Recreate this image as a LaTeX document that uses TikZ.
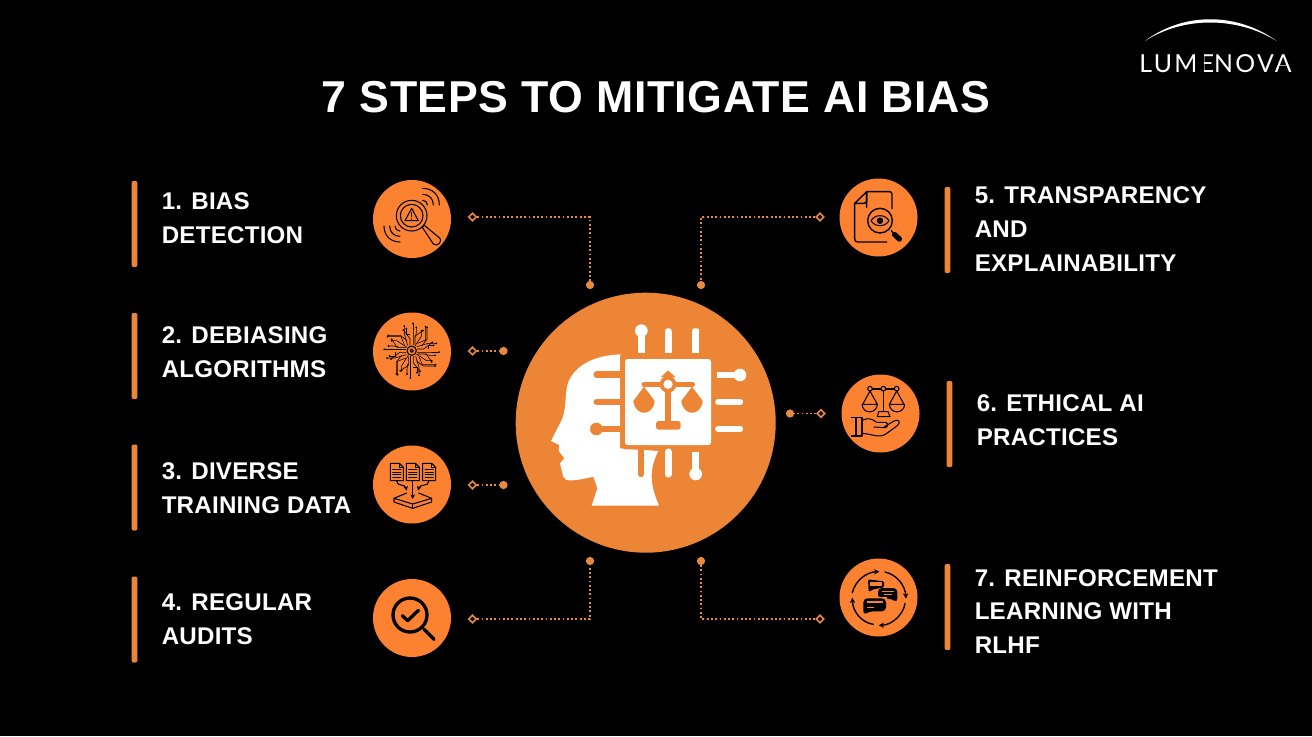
\documentclass[tikz,border=0pt]{standalone}
\usepackage{fontspec}
\setmainfont{Liberation Sans}
\newfontfamily\logofont[LetterSpace=9.5]{Lato}
\newfontfamily\labfont[LetterSpace=1]{Liberation Sans}
\newfontfamily\titlefont[LetterSpace=1.3]{Liberation Sans}
\newsavebox{\logoE}
\newsavebox{\logoA}
\usetikzlibrary{shapes.geometric,arrows.meta}
\definecolor{bigor}{HTML}{EC8636}
\definecolor{icor}{HTML}{FC8232}
\definecolor{lineor}{HTML}{E88A3E}
\tikzset{
  dotnode/.style={circle,fill=lineor,inner sep=0pt,minimum size=6.2pt},
  dianode/.style={diamond,draw=lineor,fill=black,line width=1.2pt,inner sep=0pt,minimum size=6pt},
  dotline/.style={lineor,line width=1.35pt,dash pattern=on 1.35pt off 1.85pt},
  iconbg/.style={circle,fill=icor,inner sep=0pt,minimum size=58.5pt},
  barbox/.style={rectangle,fill=bigor,rounded corners=1.5pt,inner sep=0pt,minimum width=4.4pt,minimum height=64.5pt},
  lab/.style={anchor=west,align=left,inner sep=0pt,text=white,font=\fontsize{18.1}{25.4}\selectfont\labfont\bfseries},
  ic/.style={draw=black,line width=.8pt,line join=round,line cap=round},
  icb/.style={draw=black,line width=1.05pt,line join=round,line cap=round},
  zs/.style={x=.25pt,y=-.25pt}
}
\begin{document}
\begin{tikzpicture}[x=.75pt,y=-.75pt]
\useasboundingbox (0,0) rectangle (1312,736);
\fill[black] (0,0) rectangle (1312,736);

% title
\node[inner sep=0pt,text=white,font=\fontsize{33.5}{40}\selectfont\titlefont\bfseries] (title) at (656,97) {7 STEPS TO MITIGATE AI BIAS};

% logo
\begin{scope}[shift={(1120,10)},zs]
\fill[white] (75,93) .. controls (190,6) and (350,6) .. (470,93) .. controls (350,19) and (190,19) .. (75,93) -- cycle;
\end{scope}
\node[inner sep=0pt,text=white,font=\fontsize{18.6}{20}\selectfont\logofont] (logo) at (1215.5,63.5) {\sbox{\logoE}{E}\sbox{\logoA}{A}LUME\llap{\textcolor{black}{\rule[-.05em]{.15em}{.85em}}\kern\dimexpr\wd\logoE-.19em\relax}NOVA\llap{\textcolor{black}{\rule[.17em]{.32em}{.1em}}\kern\dimexpr\wd\logoA-.5em\relax}};

% bars
\node[barbox] (b1) at (134.5,224) {};
\node[barbox] (b2) at (134.5,356) {};
\node[barbox] (b3) at (134.5,487.5) {};
\node[barbox] (b4) at (134.5,619.5) {};
\node[barbox] (b5) at (947.5,230) {};
\node[barbox] (b6) at (949.5,424) {};
\node[barbox] (b7) at (947.5,607) {};

% labels
\node[lab] (t1) at (161.5,218.5) {1. BIAS\\DETECTION};
\node[lab] (t2) at (161.5,352) {2. DEBIASING\\ALGORITHMS};
\node[lab] (t3) at (161.5,488) {3. DIVERSE\\TRAINING DATA};
\node[lab] (t4) at (161.5,619) {4. REGULAR\\AUDITS};
\node[lab] (t5) at (974.5,229) {5. TRANSPARENCY\\AND\\EXPLAINABILITY};
\node[lab] (t6) at (976.5,420) {6. ETHICAL AI\\PRACTICES};
\node[lab] (t7) at (974.5,611.5) {7. REINFORCEMENT\\LEARNING WITH\\RLHF};

% connectors
\node[dotnode] (d1) at (590,285) {};
\node[dotnode] (d2) at (503.5,351) {};
\node[dotnode] (d3) at (503.5,485) {};
\node[dotnode] (d4) at (590,561) {};
\node[dotnode] (d5) at (701,285) {};
\node[dotnode] (d6) at (790,413.5) {};
\node[dotnode] (d7) at (701,561) {};
\node[dianode] (m1) at (472.5,217) {};
\node[dianode] (m2) at (472.5,351) {};
\node[dianode] (m3) at (472.5,485) {};
\node[dianode] (m4) at (472.5,619) {};
\node[dianode] (m5) at (820,217) {};
\node[dianode] (m6) at (821,413.5) {};
\node[dianode] (m7) at (820,619) {};
\draw[dotline] (m1) -| (d1);
\draw[dotline] (m2) -- (d2);
\draw[dotline] (m3) -- (d3);
\draw[dotline] (m4) -| (d4);
\draw[dotline] (m5) -| (d5);
\draw[dotline] (m6) -- (d6);
\draw[dotline] (m7) -| (d7);

% central circle
\node[circle,fill=bigor,inner sep=0pt,minimum size=97.5pt*2] (hub) at (645.7,422.7) {};
\begin{scope}[shift={(510,285)},zs]
% head
\fill[white] (340,208) .. controls (245,208) and (180,250) .. (170,310) .. controls (165,345) and (168,375) .. (155,405) -- (123,468) -- (148,480) -- (146,498) -- (163,520) -- (150,535) -- (160,575) .. controls (165,590) and (185,590) .. (250,575) -- (262,610) -- (245,662) -- (447,662) .. controls (425,610) and (412,560) .. (445,498) -- (330,490) -- (330,208) -- cycle;
\fill[bigor,rounded corners=4pt] (331,205) rectangle (617,493);
\fill[white,rounded corners=2pt] (345,222) rectangle (603,480);
% white pins
\draw[white,line width=4.8pt] (394,137) -- (394,205);
\fill[white] (394,137) circle (19);
\draw[white,line width=4.8pt] (475,138) -- (475,205);
\draw[white,line width=4.8pt] (557,138) -- (557,205);
\fill[white,rounded corners=1pt] (466,130) rectangle (484,145);
\fill[white,rounded corners=1pt] (547,130) rectangle (567,145);
\draw[white,line width=4.8pt] (622,270) -- (690,270);
\fill[white] (690,270) circle (19);
\draw[white,line width=4.8pt,line cap=round] (625,351) -- (690,351);
\draw[white,line width=4.8pt,line cap=round] (625,432) -- (690,432);
\draw[white,line width=4.8pt,line cap=round] (475,500) -- (475,568);
\draw[white,line width=4.8pt] (557,500) -- (557,567);
\fill[white] (557,567) circle (19);
\fill[white] (466,500) rectangle (484,510);
% orange pins
\draw[bigor,line width=4.8pt,line cap=round] (260,269) -- (331,269);
\draw[bigor,line width=4.8pt,line cap=round] (260,351) -- (331,351);
\draw[bigor,line width=4.8pt] (260,432) -- (331,432);
\fill[bigor] (259,432) circle (19);
\draw[bigor,line width=4.8pt,line cap=round] (393,490) -- (393,567);
% scales
\fill[bigor] (474,256) -- (497,277) -- (452,277) -- cycle;
\draw[bigor,line width=3.6pt,line cap=round] (402,298) -- (548,298);
\fill[bigor] (474,298) circle (25);
\fill[white] (474,298) circle (14);
\fill[bigor] (402,305) -- (370,348) -- (434,348) -- cycle;
\fill[bigor] (370,348) .. controls (375,395) and (429,395) .. (434,348) -- cycle;
\fill[bigor] (546,305) -- (514,348) -- (578,348) -- cycle;
\fill[bigor] (514,348) .. controls (519,395) and (573,395) .. (578,348) -- cycle;
\fill[bigor] (465,320) rectangle (484,410);
\fill[bigor,rounded corners=2pt] (438,434) -- (438,408) -- (512,408) -- (512,434) -- cycle;
\end{scope}

% icon backgrounds
\node[iconbg] (i1) at (412,219) {};
\node[iconbg] (i2) at (412,351.5) {};
\node[iconbg] (i3) at (412,484.5) {};
\node[iconbg] (i4) at (412,618) {};
\node[iconbg] (i5) at (878.5,217.5) {};
\node[iconbg] (i6) at (880.5,413.5) {};
\node[iconbg] (i7) at (878.5,597.5) {};

% icon 1
\begin{scope}[shift={(360,170)},zs]
\draw[ic] (155,137) circle (46);
\draw[ic] (155,137) circle (34);
\draw[ic] (155,115) -- (135,152) -- (175,152) -- cycle;
\draw[ic] (155,127) -- (155,140) (155,146) -- (155,147);
\draw[ic] (187,172) -- (193,166) -- (240,205) .. controls (247,215) and (232,232) .. (220,222) -- cycle;
\foreach \r in {50,32,14} {
  \draw[ic] (188,105-\r) .. controls (188+.6*\r,105-\r) and (188+\r,105-.6*\r) .. (188+\r,105);
}
\foreach \r in {48,31,15} {
  \draw[ic] (120-\r,168) .. controls (120-\r,168+.6*\r) and (120-.6*\r,168+\r) .. (120,168+\r);
}
\end{scope}

% icon 2
\begin{scope}[shift={(360,170)},zs]
\draw[ic] (155,542) circle (14);
\draw[ic] (155,542) circle (5);
\foreach \rr in {0,90,180,270} {
\begin{scope}[shift={(155,542)},rotate=\rr]
\foreach \a/\b/\c/\d/\e/\f in {16/4/40/4/82/4, 16/-5/36/-5/62/-25, 14/10/45/30/60/30, 22/18/32/42/72/42, 30/-14/46/-34/46/-70, 12/16/22/50/22/74, 40/12/56/14/70/14, 10/-18/10/-44/34/-60, 50/-5/50/-16/66/-16}{
  \draw[black,line width=.45pt] (\a,\b) -- (\c,\d) -- (\e,\f);
  \fill[black] (\e,\f) circle (3);
}
\end{scope}
}
\end{scope}

% icon 3
\begin{scope}[shift={(360,430)},zs]
\foreach \x in {91,139,188} {
  \draw[ic] (\x,100) -- (\x+27,100) -- (\x+39,112) -- (\x+39,152) -- (\x,152) -- cycle;
  \draw[ic] (\x+27,100) -- (\x+27,112) -- (\x+39,112);
  \foreach \y in {118,126,134,142} { \draw[ic,line width=.6pt] (\x+7,\y) -- (\x+32,\y); }
}
\draw[ic,-{Stealth[length=3.5pt,width=3.5pt]}] (110,153) .. controls (112,172) and (135,160) .. (140,182);
\draw[ic,-{Stealth[length=3.5pt,width=3.5pt]}] (158,153) -- (158,207);
\draw[ic,-{Stealth[length=3.5pt,width=3.5pt]}] (207,153) .. controls (205,172) and (180,160) .. (174,182);
\draw[ic] (140,189) -- (102,205) -- (158,222) -- (215,205) -- (176,189);
\draw[ic] (102,205) -- (102,216) -- (158,235) -- (215,216) -- (215,205);
\draw[ic] (158,222) -- (158,235);
\end{scope}

% icon 4
\begin{scope}[shift={(360,430)},zs]
\draw[black,line width=2.5pt] (150,555) circle (51);
\draw[black,line width=2.5pt,line cap=round] (192,598) -- (222,628);
\draw[black,line width=2.5pt,line cap=round,line join=round] (127,557) -- (143,572) -- (175,541);
\end{scope}

% icon 5
\begin{scope}[shift={(690,170)},zs]
\draw[icb] (530,112) -- (530,65) -- (598,65) .. controls (603,65) and (606,68) .. (606,72) -- (606,116);
\draw[icb] (530,65) -- (494,100) -- (494,206) .. controls (494,212) and (497,216) .. (503,216) -- (590,216);
\draw[icb] (494,100) -- (522,100) .. controls (527,100) and (530,96) .. (530,92) -- (530,65);
\draw[icb] (570,152) circle (37);
\draw[black,line width=4pt,line cap=round] (614,194) -- (628,207);
\draw[icb] (604,182) -- (612,192);
\draw[ic] (543,152) .. controls (555,132) and (585,132) .. (597,152) .. controls (585,172) and (555,172) .. (543,152) -- cycle;
\draw[ic,fill=black] (570,152) circle (8);
\end{scope}

% icon 6
\begin{scope}[shift={(780,365)},zs]
\draw[ic] (310,72) -- (310,136);
\draw[ic] (276,72) -- (344,72);
\foreach \x in {270,310,350} { \draw[ic,fill=icor] (\x,71) circle (7); }
\draw[ic] (270,78) -- (248,118) -- (292,118) -- cycle;
\draw[ic] (350,78) -- (328,118) -- (372,118) -- cycle;
\draw[ic] (246,118) .. controls (248,148) and (290,148) .. (292,118);
\draw[ic] (328,118) .. controls (330,148) and (372,148) .. (374,118);
\draw[ic] (292,155) -- (296,140) -- (324,140) -- (330,155) -- cycle;
\draw[ic] (214,158) -- (246,158) -- (246,213) -- (214,213);
\draw[ic] (228,158) -- (228,213);
\draw[ic] (246,166) .. controls (268,158) and (272,160) .. (290,172) -- (318,172) .. controls (328,176) and (322,190) .. (312,188) -- (282,186);
\draw[ic] (312,186) -- (342,168) .. controls (356,160) and (364,172) .. (352,182) -- (316,208) .. controls (296,220) and (272,206) .. (246,205);
\end{scope}

% icon 7
\begin{scope}[shift={(690,550)},zs]
\draw[icb,-{Stealth[length=4pt,width=4pt]}] (487,128) .. controls (495,92) and (530,66) .. (568,65);
\draw[icb,-{Stealth[length=4pt,width=4pt]}] (585,66) .. controls (620,74) and (645,105) .. (648,146);
\draw[icb,-{Stealth[length=4pt,width=4pt]}] (645,160) .. controls (640,195) and (605,225) .. (566,226);
\draw[icb,-{Stealth[length=4pt,width=4pt]}] (550,223) .. controls (515,218) and (488,185) .. (487,143);
\fill[black,rounded corners=1pt] (534,88) -- (582,94) -- (582,112) -- (550,118) -- (536,126) -- cycle;
\fill[icor] (541,95) rectangle (576,108);
\draw[lineor,line width=.7pt] (541,101) -- (566,101);
\fill[black,rounded corners=3pt] (564,114) -- (622,114) -- (622,158) -- (604,146) -- (564,146) -- cycle;
\draw[icor,line width=.8pt] (577,124) -- (612,124) (582,134) -- (606,134);
\fill[icor] (516,140) rectangle (592,192);
\fill[black,rounded corners=3pt] (520,145) -- (588,145) -- (588,184) -- (538,184) -- (520,196) -- cycle;
\draw[icor,line width=.9pt] (530,156) -- (578,156) (530,173) -- (552,173);
\end{scope}
\end{tikzpicture}
\end{document}
